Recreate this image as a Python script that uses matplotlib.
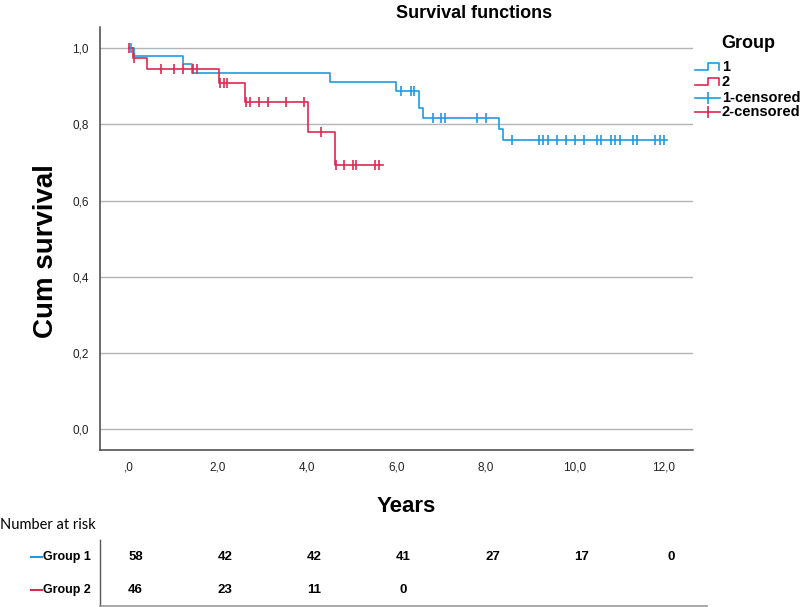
import numpy as np
import matplotlib.pyplot as plt
from matplotlib.lines import Line2D

# Kaplan-Meier steps
g1_event_t = [0.11, 1.21, 1.41, 4.51, 6.00, 6.51, 6.60, 8.30, 8.39]
g1_event_s = [0.979, 0.958, 0.934, 0.912, 0.889, 0.842, 0.818, 0.787, 0.758]
g1_end = 12.06
g1_censor_t = [0.05, 6.11, 6.32, 6.40, 6.81, 7.01, 7.10, 7.81, 8.00, 8.60, 9.20,
               9.29, 9.40, 9.60, 9.80, 10.00, 10.20, 10.50, 10.60, 10.81, 10.90,
               11.01, 11.31, 11.40, 11.80, 11.91, 12.00]

g2_event_t = [0.10, 0.41, 2.02, 2.60, 4.01, 4.63]
g2_event_s = [0.974, 0.945, 0.908, 0.859, 0.781, 0.693]
g2_end = 5.69
g2_censor_t = [0.0, 0.12, 0.71, 1.01, 1.22, 1.43, 1.52, 2.04, 2.13, 2.21, 2.62,
               2.71, 2.92, 3.12, 3.52, 3.92, 4.30, 4.65, 4.82, 5.02, 5.10, 5.52, 5.61]

risk_t = [0, 2, 4, 6, 8, 10, 12]
risk_g1 = [58, 42, 42, 41, 27, 17, 0]
risk_g2 = [46, 23, 11, 0]

x_ticks = [0, 2, 4, 6, 8, 10, 12]
x_labels = [",0", "2,0", "4,0", "6,0", "8,0", "10,0", "12,0"]
y_ticks = [0.0, 0.2, 0.4, 0.6, 0.8, 1.0]
y_labels = ["0,0", "0,2", "0,4", "0,6", "0,8", "1,0"]

BLUE = "#1e9be0"
RED = "#e0284f"

plt.rcParams['font.family'] = ["Liberation Sans", "DejaVu Sans"]


def km_curve(event_t, event_s, end):
    t = np.concatenate([[0.0], event_t, [end]])
    s = np.concatenate([[1.0], event_s, [event_s[-1]]])
    return t, s


def surv_at(times, event_t, event_s):
    s = np.concatenate([[1.0], event_s])
    idx = np.searchsorted(event_t, times, side='right')
    return s[idx]


def main():
    fig = plt.figure(figsize=(8, 6.07), dpi=100)
    ax = fig.add_axes([0.125, 0.2586, 0.741, 0.697])

    for et, es, end, ct, col in [(g1_event_t, g1_event_s, g1_end, g1_censor_t, BLUE),
                                 (g2_event_t, g2_event_s, g2_end, g2_censor_t, RED)]:
        t, s = km_curve(et, es, end)
        ax.step(t, s, where='post', color=col, lw=1.2, zorder=3)
        ax.plot(ct, surv_at(np.array(ct), et, es), ls='', marker='|',
                ms=7, mew=1.2, color=col, zorder=4)

    ax.set_xlim(-0.65, 12.65)
    ax.set_ylim(-0.055, 1.056)
    ax.set_yticks(y_ticks)
    ax.set_yticklabels(y_labels, fontsize=8.5, color='#222222')
    ax.set_xticks(x_ticks)
    ax.set_xticklabels(x_labels, fontsize=8.5, color='#222222')
    ax.tick_params(length=0, pad=8)
    ax.grid(axis='y', color='#b4b4b4', lw=1)
    ax.set_axisbelow(True)
    for side in ['top', 'right']:
        ax.spines[side].set_visible(False)
    for side in ['left', 'bottom']:
        ax.spines[side].set_color('#454545')
        ax.spines[side].set_linewidth(1.1)

    ax.set_ylabel("Cum survival", fontsize=20, fontweight='bold')
    ax.yaxis.set_label_coords(-0.069, 0.47)
    fig.text(474 / 800, 1 - 13 / 607, "Survival functions", ha='center', va='center',
             fontsize=13, fontweight='bold')
    fig.text(406 / 800, 1 - 507 / 607, "Years", ha='center', va='center',
             fontsize=16, fontweight='bold')

    # legend drawn in pixel-like coords
    lg = fig.add_axes([690 / 800, 1 - 120 / 607, 110 / 800, 100 / 607])
    lg.set_xlim(690, 800)
    lg.set_ylim(120, 20)
    lg.axis('off')
    lg.text(748, 43, "Group", ha='center', va='center', fontsize=13, fontweight='bold')
    for y, col in [(67, BLUE), (82, RED)]:
        lg.plot([695, 708, 708, 719, 719], [y + 3, y + 3, y - 4, y - 4, y + 3],
                color=col, lw=1.2)
    for y, col in [(98, BLUE), (112, RED)]:
        lg.plot([695, 720], [y, y], color=col, lw=1.2)
        lg.plot([707.5], [y], ls='', marker='|', ms=8, mew=1.2, color=col)
    for y, lab in [(67, "1"), (82, "2"), (98, "1-censored"), (112, "2-censored")]:
        lg.text(722, y, lab, ha='left', va='center', fontsize=10.5, fontweight='bold')

    # number at risk table
    fig.text(0, 1 - 525 / 607, "Number at risk", ha='left', va='center',
             fontsize=10.5, family=["Lato", "DejaVu Sans"])
    tb = fig.add_axes([0.125, 1 - 606 / 607, 607 / 800, 66 / 607])
    tb.set_xlim(-0.65, 12.96)
    tb.set_ylim(1.484, -0.516)
    tb.set_xticks([])
    tb.set_yticks([])
    for side in ['top', 'right']:
        tb.spines[side].set_visible(False)
    tb.spines['left'].set_color('#555555')
    tb.spines['bottom'].set_color('#999999')
    tb.spines['left'].set_linewidth(1)
    tb.spines['bottom'].set_linewidth(1.2)
    for row, vals in enumerate([risk_g1, risk_g2]):
        for t, v in zip(risk_t, vals):
            tb.text(t + 0.15, row, str(v), ha='center', va='center',
                    fontsize=9.5, fontweight='bold')
    for row, (lab, col) in enumerate([("Group 1", BLUE), ("Group 2", RED)]):
        yfig = 1 - (557 + 33 * row) / 607
        fig.text(91 / 800, yfig, lab, ha='right', va='center', fontsize=9,
                 fontweight='bold')
        fig.add_artist(Line2D([31 / 800, 42 / 800], [yfig, yfig], color=col, lw=1.5))

    fig.savefig("out.png", dpi=100)


if __name__ == '__main__':
    main()
